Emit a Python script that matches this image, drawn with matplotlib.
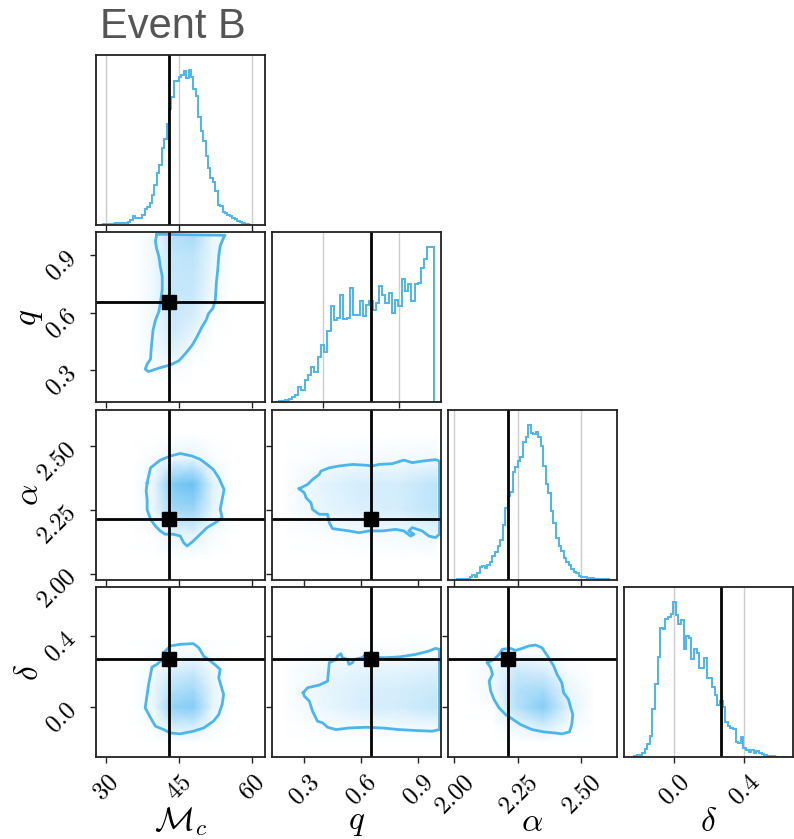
import numpy as np
import matplotlib
matplotlib.use("Agg")
import matplotlib.pyplot as plt
from matplotlib.colors import LinearSegmentedColormap
from matplotlib.ticker import FixedLocator, FuncFormatter

plt.rcParams['mathtext.fontset'] = 'cm'

# parameters: Mc, q, alpha, delta
names = [r'$\mathcal{M}_c$', r'$q$', r'$\alpha$', r'$\delta$']
truths = [42.9, 0.655, 2.212, 0.268]
limits = [(28.0, 62.7), (0.134, 1.022), (1.975, 2.64), (-0.28, 0.675)]
ticks = [[30, 45, 60], [0.3, 0.6, 0.9], [2.0, 2.25, 2.5], [0.0, 0.4]]
tick_fmt = ['{:.0f}', '{:.1f}', '{:.2f}', '{:.1f}']
hist_ticks = [[30, 45, 60], [0.4, 0.8], [2.0, 2.25, 2.5], [0.0, 0.4]]

# 1d marginals (bin range + counts)
mc_range = (29.5, 60.0)
mc_counts = [3, 3, 3, 3, 3, 5, 5, 5, 5, 5, 9, 15, 28, 20, 20, 22, 30, 48, 55, 65,
             90, 120, 155, 180, 230, 257, 300, 345, 380, 428, 430, 440, 447, 458, 437, 460, 440, 405, 385, 320,
             280, 250, 205, 170, 140, 128, 100, 60, 58, 40, 35, 30, 27, 22, 17, 12, 8, 5, 3, 2, 1]
q_range = (0.17, 0.985)
q_counts = [3, 4, 5, 10, 15, 20, 45, 35, 65, 80, 105, 90, 135, 170, 150, 210, 285, 245, 250, 318,
            248, 250, 340, 258, 260, 300, 255, 290, 300, 275, 295, 345, 318, 295, 325, 265, 305, 285, 365, 330,
            350, 300, 350, 355, 400, 425, 460, 460]
alpha_range = (2.01, 2.61)
alpha_counts = [4, 4, 4, 4, 4, 8, 15, 9, 20, 38, 42, 37, 45, 55, 70, 82, 100, 120, 165, 215,
                250, 262, 320, 335, 353, 365, 410, 425, 460, 437, 435, 440, 425, 400, 340, 285, 258, 205, 170, 125,
                100, 85, 65, 55, 45, 33, 25, 20, 12, 9, 8, 7, 6, 5, 4, 3, 3, 2, 2, 2]
delta_range = (-0.2228, 0.6598)
delta_counts = [3, 5, 5, 13, 23, 38, 63, 143, 215, 295, 381, 378, 408, 415, 425, 458, 421, 393, 405, 321,
                358, 353, 290, 321, 308, 263, 263, 293, 235, 233, 208, 183, 153, 165, 148, 103, 93, 85, 83, 45,
                41, 58, 28, 21, 15, 21, 13, 19, 11, 8, 5, 3, 3, 2, 1, 1, 1, 1, 1, 1]

# 2d panels: coarse density grid + contour outline
mc_q_xc = [36, 40, 44, 48, 52, 56]
mc_q_yc = [0.2, 0.3, 0.4, 0.5, 0.6, 0.7, 0.8, 0.9, 1.0]
mc_q_dens = [[0, 0, 0, 0, 0, 0],
             [0, 0.02, 0.03, 0, 0, 0],
             [0, 0.06, 0.14, 0.04, 0, 0],
             [0, 0.08, 0.22, 0.12, 0.01, 0],
             [0, 0.08, 0.25, 0.2, 0.03, 0],
             [0, 0.08, 0.27, 0.25, 0.06, 0],
             [0, 0.08, 0.27, 0.28, 0.08, 0],
             [0, 0.08, 0.28, 0.3, 0.1, 0],
             [0, 0.08, 0.35, 0.4, 0.1, 0]]
mc_q_cx = [40.5, 54.5, 54.2, 53.5, 53.2, 53.0, 52.7, 52.5, 52.0, 51.1, 50.6, 49.75, 48.7, 47.7, 46.3, 45.0,
           43.3, 40.9, 38.8, 38.1, 38.5, 39.2, 39.3, 39.5, 39.7, 40.2, 40.9, 41.2, 41.6, 41.6, 41.2, 40.9, 40.4, 40.2]
mc_q_cy = [1.01, 1.005, 0.993, 0.949, 0.896, 0.825, 0.755, 0.667, 0.623, 0.596, 0.561, 0.526, 0.473, 0.429, 0.385, 0.349,
           0.328, 0.311, 0.293, 0.305, 0.332, 0.358, 0.402, 0.455, 0.508, 0.561, 0.605, 0.649, 0.72, 0.79, 0.843, 0.896, 0.94, 0.976]

mc_al_xc = [36, 40, 44, 48, 52, 56]
mc_al_yc = [2.05, 2.15, 2.25, 2.35, 2.45, 2.55]
mc_al_dens = [[0, 0, 0, 0, 0, 0],
              [0, 0.02, 0.1, 0.12, 0.04, 0],
              [0, 0.1, 0.42, 0.45, 0.12, 0],
              [0, 0.12, 0.6, 0.68, 0.15, 0],
              [0, 0.03, 0.1, 0.12, 0.03, 0],
              [0, 0, 0, 0, 0, 0]]
mc_al_cx = [38.5, 39.2, 41.2, 43.3, 45.3, 47.7, 49.4, 50.8, 52.1, 53.2, 54.3, 53.9, 53.5, 53.9, 52.5, 50.8, 49.4,
            48.0, 46.7, 46.0, 45.3, 43.9, 42.2, 41.2, 40.2, 39.2, 38.5, 38.5, 38.3]
mc_al_cy = [2.355, 2.414, 2.444, 2.46, 2.47, 2.46, 2.447, 2.427, 2.407, 2.375, 2.329, 2.29, 2.251, 2.219, 2.199, 2.18, 2.154,
            2.128, 2.108, 2.121, 2.147, 2.154, 2.154, 2.167, 2.186, 2.212, 2.251, 2.29, 2.323]

q_al_xc = [0.2, 0.4, 0.6, 0.8, 1.0]
q_al_yc = [2.05, 2.15, 2.25, 2.35, 2.45, 2.55]
q_al_dens = [[0, 0, 0, 0, 0],
             [0, 0.02, 0.04, 0.05, 0.08],
             [0.01, 0.1, 0.17, 0.19, 0.3],
             [0.01, 0.13, 0.2, 0.2, 0.3],
             [0, 0.03, 0.05, 0.05, 0.07],
             [0, 0, 0, 0, 0]]
q_al_cx = [0.277, 0.321, 0.347, 0.382, 0.391, 0.435, 0.487, 0.557, 0.627, 0.661, 0.696, 0.766, 0.827, 0.871, 0.923,
           0.993, 1.014, 1.014, 0.993, 0.958, 0.923, 0.871, 0.853, 0.88, 0.862, 0.827, 0.784, 0.714, 0.644, 0.592,
           0.539, 0.452, 0.435, 0.426, 0.382, 0.347, 0.339, 0.313, 0.304]
q_al_cy = [2.332, 2.349, 2.368, 2.388, 2.401, 2.414, 2.421, 2.427, 2.424, 2.421, 2.427, 2.43, 2.444, 2.434, 2.44,
           2.446, 2.44, 2.154, 2.141, 2.147, 2.167, 2.18, 2.167, 2.154, 2.147, 2.167, 2.173, 2.167, 2.167, 2.16,
           2.167, 2.176, 2.199, 2.232, 2.232, 2.251, 2.277, 2.297, 2.316]

mc_de_xc = [36, 40, 44, 48, 52, 56]
mc_de_yc = [-0.2, -0.1, 0.0, 0.1, 0.2, 0.3, 0.4]
mc_de_dens = [[0, 0, 0, 0, 0, 0],
              [0, 0.04, 0.22, 0.22, 0.04, 0],
              [0, 0.1, 0.5, 0.55, 0.12, 0],
              [0, 0.1, 0.35, 0.42, 0.12, 0],
              [0, 0.06, 0.2, 0.24, 0.07, 0],
              [0, 0.02, 0.06, 0.06, 0.02, 0],
              [0, 0, 0, 0, 0, 0]]
mc_de_cx = [41.9, 43.3, 45.3, 48.0, 49.1, 50.1, 51.5, 52.5, 53.5, 53.2, 53.6, 54.2, 53.9, 53.2, 52.1, 50.1, 48.0,
            45.3, 43.3, 41.9, 40.2, 39.2, 38.1, 38.5, 38.8, 39.2, 39.5, 40.5, 41.6]
mc_de_cy = [0.306, 0.344, 0.353, 0.357, 0.334, 0.287, 0.259, 0.237, 0.212, 0.165, 0.127, 0.071, 0.015, -0.042, -0.079,
            -0.117, -0.135, -0.15, -0.145, -0.126, -0.107, -0.06, -0.004, 0.071, 0.127, 0.184, 0.225, 0.24, 0.268]

q_de_xc = [0.2, 0.4, 0.6, 0.8, 1.0]
q_de_yc = [-0.2, -0.1, 0.0, 0.1, 0.2, 0.3, 0.4]
q_de_dens = [[0, 0, 0, 0, 0],
             [0, 0.03, 0.06, 0.07, 0.09],
             [0.01, 0.09, 0.18, 0.2, 0.28],
             [0.01, 0.1, 0.17, 0.19, 0.24],
             [0.01, 0.08, 0.13, 0.13, 0.17],
             [0, 0.02, 0.04, 0.04, 0.05],
             [0, 0, 0, 0, 0]]
q_de_cx = [0.298, 0.321, 0.382, 0.426, 0.435, 0.47, 0.478, 0.496, 0.504, 0.53, 0.539, 0.557, 0.565, 0.609, 0.627,
           0.653, 0.67, 0.731, 0.801, 0.888, 0.958, 0.993, 1.014, 1.014, 0.975, 0.906, 0.801, 0.714, 0.627, 0.539,
           0.47, 0.426, 0.4, 0.373, 0.347, 0.33, 0.304]
q_de_cy = [0.081, 0.109, 0.124, 0.146, 0.25, 0.268, 0.287, 0.3, 0.278, 0.268, 0.24, 0.25, 0.268, 0.278, 0.3,
           0.306, 0.278, 0.278, 0.282, 0.296, 0.315, 0.33, 0.325, -0.126, -0.135, -0.132, -0.126, -0.117, -0.113, -0.117,
           -0.126, -0.113, -0.088, -0.079, -0.023, 0.034, 0.062]

al_de_xc = [2.05, 2.15, 2.25, 2.35, 2.45, 2.55]
al_de_yc = [-0.2, -0.1, 0.0, 0.1, 0.2, 0.3, 0.4]
al_de_dens = [[0, 0, 0, 0, 0, 0],
              [0, 0, 0.1, 0.22, 0.06, 0],
              [0, 0.02, 0.35, 0.55, 0.15, 0],
              [0, 0.06, 0.35, 0.4, 0.1, 0],
              [0, 0.07, 0.24, 0.2, 0.04, 0],
              [0, 0.02, 0.06, 0.04, 0, 0],
              [0, 0, 0, 0, 0, 0]]
al_de_cx = [2.13, 2.156, 2.176, 2.189, 2.221, 2.241, 2.267, 2.293, 2.319, 2.345, 2.371, 2.391, 2.404, 2.423, 2.43,
            2.449, 2.456, 2.466, 2.462, 2.453, 2.423, 2.397, 2.352, 2.306, 2.261, 2.221, 2.202, 2.176, 2.156, 2.143,
            2.137, 2.15, 2.143]
al_de_cy = [0.25, 0.268, 0.296, 0.325, 0.33, 0.319, 0.33, 0.344, 0.349, 0.334, 0.278, 0.231, 0.184, 0.137, 0.081,
            0.043, 0.006, -0.042, -0.098, -0.139, -0.15, -0.145, -0.139, -0.126, -0.098, -0.06, -0.042, -0.004, 0.043, 0.09,
            0.146, 0.184, 0.221]

hists = [(mc_range, mc_counts), (q_range, q_counts), (alpha_range, alpha_counts), (delta_range, delta_counts)]
pairs = {
    (1, 0): (mc_q_xc, mc_q_yc, mc_q_dens, mc_q_cx, mc_q_cy),
    (2, 0): (mc_al_xc, mc_al_yc, mc_al_dens, mc_al_cx, mc_al_cy),
    (2, 1): (q_al_xc, q_al_yc, q_al_dens, q_al_cx, q_al_cy),
    (3, 0): (mc_de_xc, mc_de_yc, mc_de_dens, mc_de_cx, mc_de_cy),
    (3, 1): (q_de_xc, q_de_yc, q_de_dens, q_de_cx, q_de_cy),
    (3, 2): (al_de_xc, al_de_yc, al_de_dens, al_de_cx, al_de_cy),
}

line_c = '#4cb6ec'
cmap = LinearSegmentedColormap.from_list('blu', ['#ffffff', '#3aaef0'])
edge_c = '#222222'

W, H = 794, 839
col_x = [96, 272, 448, 624]
row_y = [55, 232, 410, 587]
pw, ph = 169, 170

fig = plt.figure(figsize=(W / 100, H / 100), dpi=100)


def make_ax(i, j):
    ax = fig.add_axes([col_x[j] / W, 1 - (row_y[i] + ph) / H, pw / W, ph / H])
    for s in ax.spines.values():
        s.set_color(edge_c)
        s.set_linewidth(1.3)
    ax.tick_params(direction='out', length=4, width=1, color=edge_c, labelsize=18)
    ax.tick_params(axis='x', pad=5)
    ax.tick_params(axis='y', pad=7)
    return ax


def fmt(k):
    return FuncFormatter(lambda v, p: '$' + tick_fmt[k].format(v) + '$')


for i in range(4):
    for j in range(i + 1):
        ax = make_ax(i, j)
        ax.set_xlim(limits[j])
        if i == j:
            (lo, hi), counts = hists[i]
            edges = np.linspace(lo, hi, len(counts) + 1)
            ax.set_axisbelow(True)
            ax.grid(axis='x', color='#cccccc', lw=1)
            ax.stairs(counts, edges, color=line_c, lw=1.4, baseline=0)
            ax.axvline(truths[i], color='k', lw=2)
            ax.set_ylim(0, 1.1 * max(counts))
            ax.set_yticks([])
            ax.xaxis.set_major_locator(FixedLocator(hist_ticks[i]))
        else:
            xc, yc, dens, cx, cy = pairs[(i, j)]
            X, Y = np.meshgrid(xc, yc)
            ax.pcolormesh(X, Y, np.array(dens), cmap=cmap, vmin=0, vmax=0.9, shading='gouraud')
            ax.plot(cx + cx[:1], cy + cy[:1], color=line_c, lw=2)
            ax.axvline(truths[j], color='k', lw=2)
            ax.axhline(truths[i], color='k', lw=2)
            ax.plot(truths[j], truths[i], 's', color='k', ms=10)
            ax.set_ylim(limits[i])
            ax.xaxis.set_major_locator(FixedLocator(ticks[j]))
            ax.yaxis.set_major_locator(FixedLocator(ticks[i]))
            if j == 0:
                ax.yaxis.set_major_formatter(fmt(i))
                for t in ax.get_yticklabels():
                    t.set_rotation(45)
                ax.set_ylabel(names[i], fontsize=24)
                ax.yaxis.set_label_coords(-0.3, 0.5)
            else:
                ax.set_yticklabels([])
        if i == 3:
            ax.xaxis.set_major_formatter(fmt(j))
            for t in ax.get_xticklabels():
                t.set_rotation(45)
            ax.set_xlabel(names[j], fontsize=24)
            ax.xaxis.set_label_coords(0.5, -0.285)
        else:
            ax.set_xticklabels([])

fig.text(100 / W, 1 - 38 / H, 'Event B', fontsize=30, color='#555555',
         family='Liberation Sans', va='baseline', ha='left')

fig.savefig('out.png', dpi=100)
